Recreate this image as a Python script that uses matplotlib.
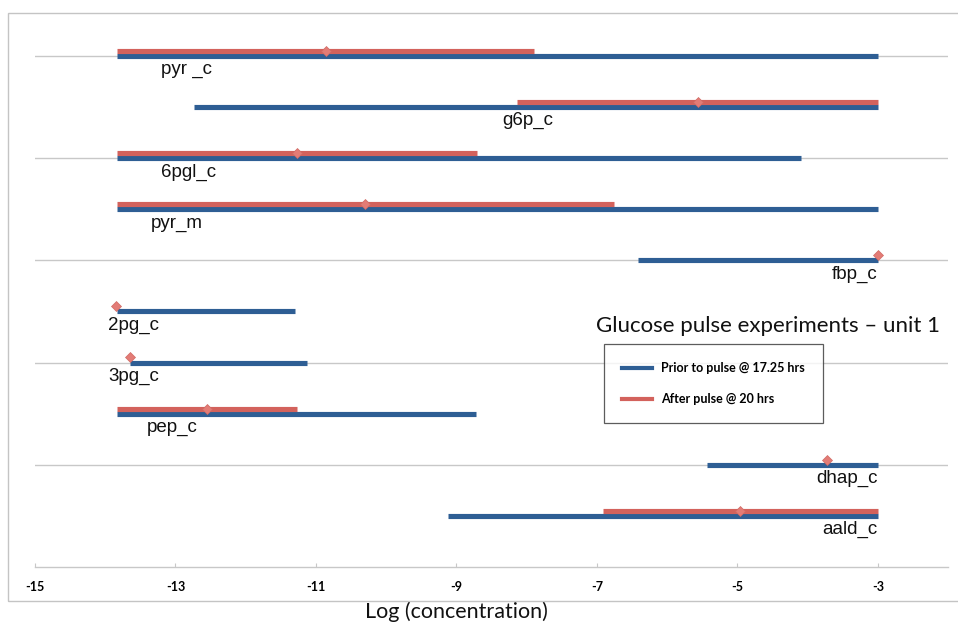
import matplotlib
matplotlib.use("Agg")
import matplotlib.pyplot as plt
from matplotlib.lines import Line2D
from matplotlib.patches import Rectangle

# ── Data: log concentration ranges per metabolite ──
metabolites = ["pyr _c", "g6p_c", "6pgl_c", "pyr_m", "fbp_c",
               "2pg_c", "3pg_c", "pep_c", "dhap_c", "aald_c"]
rows = [10, 9, 8, 7, 6, 5, 4, 3, 2, 1]

# prior to pulse @ 17.25 hrs (blue)
prior_lo = [-13.83, -12.74, -13.83, -13.83, -6.42, -13.83, -13.65, -13.83, -5.43, -9.12]
prior_hi = [-3.0, -3.0, -4.09, -3.0, -3.0, -11.30, -11.13, -8.72, -3.0, -3.0]

# after pulse @ 20 hrs (red); equal lo/hi means a single point
after_lo = [-13.83, -8.13, -13.83, -13.83, -3.0, -13.84, -13.65, -13.83, -3.72, -6.91]
after_hi = [-7.89, -3.0, -8.71, -6.76, -3.0, -13.84, -13.65, -11.27, -3.72, -3.0]

# label anchors (in x units) for each metabolite name
label_x = [-13.2, -8.35, -13.2, -13.35, -3.0, -13.96, -13.96, -13.41, -3.0, -3.0]
label_ha = ["left", "left", "left", "left", "right", "left", "left", "left", "right", "right"]

BLUE = "#2e5e94"
RED = "#d3625c"
MARK = "#e37c76"
GRID = "#c8c8c8"

W, H = 958, 623
fig = plt.figure(figsize=(W / 100, H / 100), dpi=100)

# outer chart frame (runs off the right edge)
fig.patches.append(Rectangle((8 / W, 1 - 601 / H), 1.2, (601 - 13) / H,
                             transform=fig.transFigure, fill=False,
                             edgecolor="#c4c4c4", linewidth=1.0))

ax = fig.add_axes([35 / W, (H - 567) / H, (948 - 35) / W, (567 - 15) / H])
ax.set_xlim(-15, -2)
ax.set_ylim(0, 10.8)

for s in ["left", "right", "top"]:
    ax.spines[s].set_visible(False)
ax.spines["bottom"].set_color(GRID)
ax.spines["bottom"].set_linewidth(1.0)

ax.set_yticks([2, 4, 6, 8, 10])
ax.yaxis.grid(True, color=GRID, linewidth=1.0)
ax.tick_params(axis="y", left=False, labelleft=False)
ax.set_axisbelow(True)

ax.set_xticks([-15, -13, -11, -9, -7, -5, -3])
ax.set_xticklabels(["-15", "-13", "-11", "-9", "-7", "-5", "-3"],
                   fontfamily="Lato", fontweight="bold", fontsize=9)
ax.tick_params(axis="x", direction="in", length=3, color=GRID, pad=10)

off = 0.1
lw = 3.7
for y, b0, b1, r0, r1 in zip(rows, prior_lo, prior_hi, after_lo, after_hi):
    ax.plot([b0, b1], [y, y], color=BLUE, linewidth=lw, solid_capstyle="butt", zorder=3)
    if r1 > r0:
        ax.plot([r0, r1], [y + off, y + off], color=RED, linewidth=lw,
                solid_capstyle="butt", zorder=3)
    ax.plot([(r0 + r1) / 2], [y + off], marker="D", markersize=5,
            color=MARK, markeredgecolor="#d06a64", markeredgewidth=0.5, zorder=4)

for name, y, lx, ha in zip(metabolites, rows, label_x, label_ha):
    ax.text(lx, y - 0.27, name, ha=ha, va="center", fontsize=13.5,
            fontfamily="Liberation Sans", color="#111111")

ax.text(-7.01, 4.72, "Glucose pulse experiments \u2013 unit 1", ha="left", va="center",
        fontsize=16, fontfamily="Lato", color="#111111")

handles = [Line2D([], [], color=BLUE, linewidth=3),
           Line2D([], [], color=RED, linewidth=3)]
leg = ax.legend(handles, ["Prior to pulse @ 17.25 hrs", "After pulse @ 20 hrs"],
                loc="upper left",
                bbox_to_anchor=((604 - 35) / (948 - 35), (567 - 344) / (567 - 15)),
                prop={"family": "Lato", "weight": "bold", "size": 9},
                frameon=True, fancybox=False, shadow=False, handlelength=2.4,
                borderpad=1.45, labelspacing=1.5, handletextpad=0.7,
                borderaxespad=0)
leg.get_frame().set_edgecolor("#333333")
leg.get_frame().set_linewidth(0.9)

ax.set_xlabel("Log (concentration)", fontfamily="Lato", fontsize=15.5,
              color="#111111")
ax.xaxis.set_label_coords((456 - 35) / (948 - 35), (567 - 601) / (567 - 15))

fig.savefig("out.png", dpi=100)
